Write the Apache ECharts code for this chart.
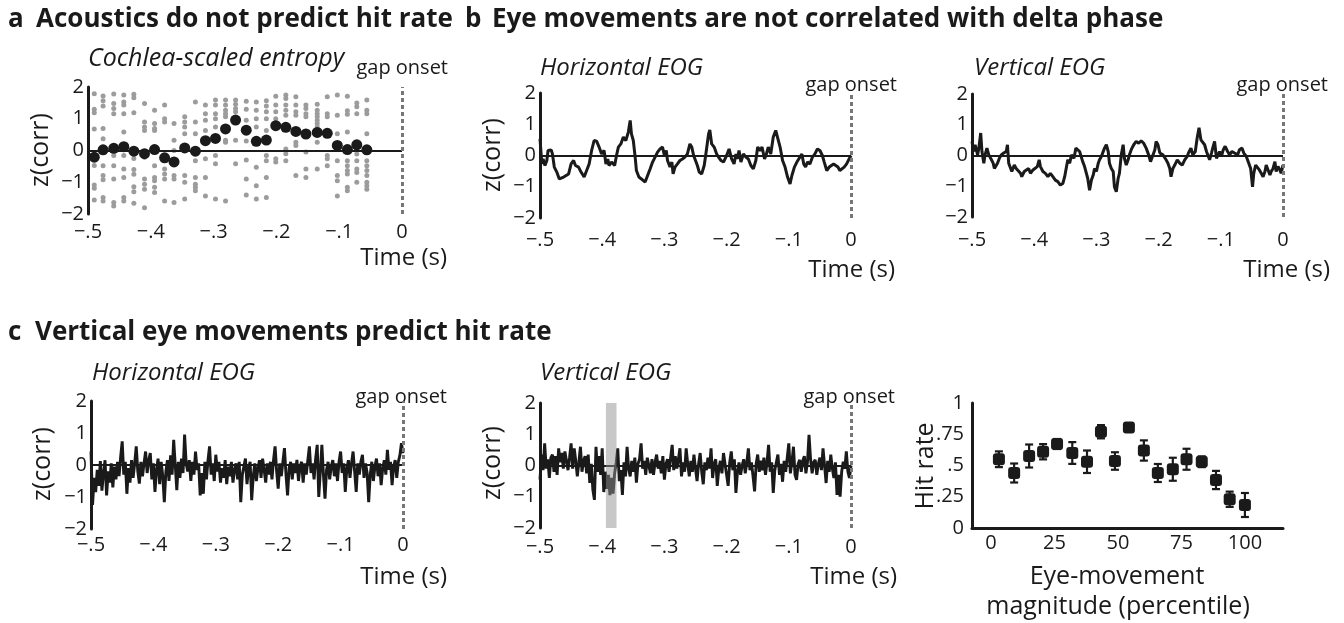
<!DOCTYPE html>
<html><head><meta charset="utf-8">
<script src="https://cdn.jsdelivr.net/npm/echarts@6/dist/echarts.min.js"></script>
<style>html,body{margin:0;padding:0;background:#fff}#c{width:1344px;height:623px}</style>
</head><body><div id="c"></div><script>
const FONT = '"Open Sans", "Noto Sans", sans-serif';
const INK = '#1a1a1a';

// ---------- Panel a: cochlea-scaled entropy ----------
const entropyTimes = [-0.490,-0.476,-0.459,-0.443,-0.427,-0.410,-0.394,-0.378,-0.363,-0.346,-0.329,-0.313,-0.297,-0.281,-0.265,-0.248,-0.232,-0.216,-0.201,-0.185,-0.169,-0.153,-0.135,-0.119,-0.103,-0.087,-0.072,-0.056];
const entropyMeans = [-0.21,0.02,0.07,0.12,-0.02,-0.10,0.03,-0.23,-0.36,0.08,-0.02,0.31,0.38,0.68,0.96,0.64,0.29,0.33,0.78,0.73,0.60,0.52,0.57,0.54,0.16,0.03,0.18,0.02];
const entropySubjects = [
  [1.79,1.30,1.19,0.68,-0.47,-1.09,-1.19,-1.56],
  [1.72,1.57,1.40,0.69,0.37,-0.48,-0.79,-0.92,-1.48,-1.59],
  [1.78,1.48,1.32,1.16,-0.16,-0.48,-0.90,-1.64,-1.75],
  [1.75,1.53,1.43,1.16,0.58,-0.16,-0.58,-0.85,-1.48,-1.59],
  [1.77,1.66,1.19,-0.25,-0.60,-0.75,-1.14,-1.30,-1.66],
  [1.48,0.90,0.74,0.63,-0.21,-0.90,-1.06,-1.22,-1.80],
  [1.27,0.85,0.69,0.63,-0.48,-0.85,-0.95,-1.16,-1.32],
  [1.43,1.00,0.90,-0.16,-0.58,-0.74,-0.90,-1.59],
  [0.85,0.32,0.00,-0.79,-0.90,-1.64],
  [1.06,0.90,0.74,0.53,-0.79,-1.00,-1.53],
  [1.53,0.90,0.53,-0.32,-0.85,-1.06,-1.16,-1.27],
  [1.43,1.16,0.95,0.63,-0.26,-0.85,-1.43],
  [1.59,1.43,1.16,1.00,0.74,0.32,-0.16,-0.42,-1.53],
  [1.59,1.43,1.27,1.16,1.06,0.32,0.26,-1.59],
  [1.59,1.46,1.32,1.22,0.32,-0.42],
  [1.55,1.30,0.95,0.30,-0.30,-0.90,-1.40],
  [1.53,1.27,1.00,0.74,-0.53,-1.11,-1.53],
  [1.57,1.40,1.22,1.00,0.63,-0.16,-0.32,-0.85,-1.48],
  [1.71,1.43,1.22,1.00,-0.26,-0.36],
  [1.75,1.64,1.43,1.27,1.11,0.05,-0.10,-0.32],
  [1.69,1.43,1.22,1.11,0.26,0.16,-0.79],
  [1.43,1.32,1.16,1.06,-0.05,-0.58,-0.85],
  [1.46,1.27,1.16,1.06,0.95,0.85,0.74,0.26,-0.58],
  [1.69,1.16,1.06,-0.16,-0.26,-0.48],
  [1.75,1.11,0.53,-0.32,-0.79,-0.95,-1.43],
  [1.71,1.25,1.14,0.58,-0.32,-0.48,-0.63,-0.74,-1.16,-1.27],
  [1.50,1.38,1.16,-0.11,-0.32,-0.58,-0.69,-1.00],
  [1.59,1.27,1.16,0.53,-0.32,-0.48,-0.63,-0.79,-1.00,-1.11,-1.22]
];

// ---------- Panel b: EOG vs delta phase, [time, z] ----------
const eogHorizB = [[-0.500,0.53],[-0.497,-0.27],[-0.495,-0.11],[-0.492,-0.32],[-0.489,-0.16],[-0.487,0.16],[-0.482,0.18],[-0.480,0.05],[-0.477,-0.37],[-0.473,-0.53],[-0.469,-0.75],[-0.466,-0.80],[-0.462,-0.69],[-0.459,-0.75],[-0.454,-0.59],[-0.450,-0.27],[-0.446,-0.16],[-0.443,-0.32],[-0.438,-0.37],[-0.434,-0.53],[-0.429,-0.69],[-0.425,-0.48],[-0.421,-0.27],[-0.417,0.16],[-0.413,0.48],[-0.409,0.46],[-0.405,0.27],[-0.401,0.05],[-0.397,0.16],[-0.394,-0.27],[-0.391,-0.11],[-0.389,-0.32],[-0.385,-0.21],[-0.380,-0.32],[-0.377,0.00],[-0.374,0.27],[-0.370,0.37],[-0.366,0.59],[-0.362,0.48],[-0.358,0.75],[-0.355,1.12],[-0.353,0.69],[-0.350,0.48],[-0.347,-0.05],[-0.345,-0.48],[-0.341,-0.69],[-0.337,-0.75],[-0.331,-0.85],[-0.327,-0.64],[-0.323,-0.43],[-0.319,-0.21],[-0.315,-0.05],[-0.311,0.11],[-0.307,0.21],[-0.303,0.27],[-0.300,0.00],[-0.297,0.16],[-0.295,-0.16],[-0.291,-0.37],[-0.288,-0.21],[-0.286,-0.59],[-0.283,-0.37],[-0.279,-0.27],[-0.275,-0.16],[-0.271,-0.11],[-0.267,-0.05],[-0.263,0.05],[-0.259,0.37],[-0.256,0.27],[-0.253,0.00],[-0.251,-0.05],[-0.247,-0.32],[-0.244,-0.53],[-0.240,-0.59],[-0.236,-0.32],[-0.234,-0.05],[-0.229,0.69],[-0.227,0.82],[-0.224,0.37],[-0.220,0.27],[-0.216,0.05],[-0.213,-0.05],[-0.209,-0.16],[-0.205,-0.21],[-0.200,0.00],[-0.196,0.21],[-0.192,-0.11],[-0.188,-0.27],[-0.185,0.05],[-0.183,-0.11],[-0.180,0.16],[-0.177,-0.21],[-0.173,0.05],[-0.169,-0.05],[-0.165,-0.11],[-0.161,-0.32],[-0.157,-0.43],[-0.153,-0.16],[-0.150,0.27],[-0.146,0.16],[-0.143,0.27],[-0.139,-0.11],[-0.136,0.05],[-0.133,0.27],[-0.129,0.05],[-0.125,0.59],[-0.121,0.80],[-0.118,0.85],[-0.114,0.27],[-0.110,-0.16],[-0.106,-0.37],[-0.102,-0.69],[-0.098,-0.91],[-0.095,-0.64],[-0.091,-0.37],[-0.087,-0.21],[-0.084,-0.27],[-0.079,0.05],[-0.076,-0.27],[-0.073,-0.37],[-0.070,-0.21],[-0.066,-0.27],[-0.062,-0.05],[-0.058,0.05],[-0.054,0.21],[-0.050,0.16],[-0.046,0.00],[-0.043,-0.21],[-0.039,-0.48],[-0.035,-0.37],[-0.032,-0.43],[-0.028,-0.27],[-0.025,-0.21],[-0.021,-0.37],[-0.018,-0.48],[-0.015,-0.53],[-0.011,-0.37],[-0.007,-0.27],[-0.003,-0.11],[0.000,0.00]];
const eogVertB = [[-0.500,0.46],[-0.497,0.13],[-0.495,0.35],[-0.491,0.02],[-0.489,0.24],[-0.486,0.73],[-0.484,0.13],[-0.481,-0.25],[-0.479,0.02],[-0.476,0.24],[-0.473,0.02],[-0.470,-0.09],[-0.466,-0.25],[-0.464,-0.42],[-0.459,-0.25],[-0.456,-0.09],[-0.453,0.02],[-0.449,0.08],[-0.445,0.13],[-0.443,0.35],[-0.441,-0.25],[-0.438,-0.20],[-0.436,-0.52],[-0.432,-0.31],[-0.429,-0.42],[-0.426,-0.36],[-0.422,-0.58],[-0.420,-0.69],[-0.416,-0.52],[-0.413,-0.58],[-0.409,-0.42],[-0.406,-0.58],[-0.402,-0.47],[-0.399,-0.52],[-0.395,-0.36],[-0.392,-0.14],[-0.390,-0.36],[-0.386,-0.52],[-0.382,-0.58],[-0.378,-0.69],[-0.374,-0.58],[-0.370,-0.69],[-0.366,-0.80],[-0.362,-0.85],[-0.358,-0.96],[-0.354,-0.91],[-0.351,-0.69],[-0.348,-0.36],[-0.346,-0.14],[-0.343,-0.25],[-0.340,0.02],[-0.336,-0.09],[-0.333,0.24],[-0.331,0.30],[-0.327,0.13],[-0.324,0.19],[-0.322,-0.20],[-0.319,-0.36],[-0.316,-0.42],[-0.314,-0.74],[-0.311,-1.13],[-0.308,-0.80],[-0.305,-0.63],[-0.303,-0.42],[-0.300,-0.52],[-0.297,-0.25],[-0.295,-0.14],[-0.292,-0.03],[-0.289,0.02],[-0.287,0.24],[-0.284,0.35],[-0.281,0.13],[-0.279,-0.25],[-0.276,-0.42],[-0.273,-0.52],[-0.271,-1.02],[-0.268,-1.18],[-0.265,-0.74],[-0.263,-0.58],[-0.260,0.02],[-0.257,0.35],[-0.255,-0.09],[-0.252,-0.31],[-0.249,-0.14],[-0.247,0.02],[-0.244,0.19],[-0.240,0.35],[-0.236,0.46],[-0.232,0.40],[-0.228,0.48],[-0.224,0.40],[-0.220,0.24],[-0.216,0.02],[-0.213,-0.20],[-0.209,0.02],[-0.206,0.19],[-0.204,0.46],[-0.201,0.35],[-0.198,0.08],[-0.196,0.13],[-0.193,0.02],[-0.190,0.08],[-0.188,-0.14],[-0.185,-0.25],[-0.182,-0.42],[-0.180,-0.69],[-0.177,-0.42],[-0.174,-0.31],[-0.170,-0.14],[-0.166,-0.25],[-0.162,-0.31],[-0.158,-0.14],[-0.154,-0.03],[-0.152,0.08],[-0.148,0.24],[-0.145,0.02],[-0.141,0.13],[-0.138,0.57],[-0.135,0.90],[-0.132,0.51],[-0.130,0.46],[-0.126,0.35],[-0.123,0.13],[-0.121,0.19],[-0.118,-0.14],[-0.115,0.08],[-0.113,0.24],[-0.110,0.46],[-0.107,-0.09],[-0.104,-0.14],[-0.102,0.13],[-0.099,-0.03],[-0.096,0.19],[-0.093,0.30],[-0.089,0.13],[-0.086,0.02],[-0.082,0.13],[-0.078,0.08],[-0.073,0.02],[-0.070,0.19],[-0.066,0.24],[-0.063,0.08],[-0.059,-0.03],[-0.055,-0.25],[-0.052,-0.42],[-0.049,-1.02],[-0.047,-0.58],[-0.044,-0.31],[-0.041,-0.36],[-0.038,-0.47],[-0.035,-0.58],[-0.032,-0.69],[-0.029,-0.52],[-0.027,-0.31],[-0.024,-0.47],[-0.021,-0.63],[-0.019,-0.52],[-0.016,-0.42],[-0.013,-0.20],[-0.011,-0.52],[-0.008,-0.36],[-0.005,-0.47],[-0.003,-0.58],[0.000,-0.31]];

// ---------- Panel c: EOG vs hit rate (sampled every 2.5 ms from -0.5 s) ----------
const cStartTime = -0.5;
const cSampleStep = 0.0025;
const eogHorizC = [0.42,-1.25,-0.40,-0.85,-0.15,-0.65,0.12,-0.80,-0.25,0.15,
-0.95,-0.20,-0.55,0.05,-0.70,-0.05,-0.45,0.10,-0.35,0.25,
0.74,-0.30,0.10,-0.90,-0.10,-0.55,0.15,-0.40,0.05,0.58,
-0.20,-0.58,0.10,-0.35,0.05,0.42,-0.25,0.15,0.37,-0.45,
0.05,-0.84,-0.15,0.20,-0.60,0.10,-0.35,-1.16,-0.20,0.15,
-0.50,0.30,-0.30,0.79,0.00,-0.79,0.10,-0.40,0.20,-0.25,
0.95,0.05,-0.20,0.15,-0.50,0.10,-0.30,0.42,-0.15,0.05,
-0.95,-0.25,-0.90,0.10,-0.45,0.15,0.58,-0.30,0.05,-0.50,
0.32,-0.20,0.10,-0.55,-0.10,-0.40,0.15,-0.60,-0.05,-0.35,
0.10,-0.55,-0.15,0.05,-0.45,0.10,-1.16,-0.30,-0.05,0.20,
-0.60,-0.10,0.10,-1.10,-0.35,0.05,-0.50,-0.10,0.15,-0.40,
0.20,-0.15,-0.55,0.05,-0.30,0.10,-0.45,0.15,0.58,-0.20,
-0.74,0.05,-0.35,0.10,0.53,-0.30,-0.95,-0.10,0.10,-0.45,
0.05,-0.25,0.16,-0.50,-0.05,0.10,-0.55,0.05,-0.30,0.15,
0.58,-0.25,0.05,-0.45,0.20,0.63,-1.00,-0.20,0.63,-0.30,
-1.05,-0.15,0.10,-0.45,-0.05,0.15,-0.35,0.05,-0.50,0.10,
0.42,-0.25,0.05,-0.84,-0.10,0.15,-0.40,0.05,0.42,-0.20,
-0.84,0.05,-0.30,0.10,0.32,-0.40,0.05,-0.25,-1.16,-0.30,
0.10,-0.50,-0.05,0.20,-0.35,0.05,-0.63,-0.10,0.15,-0.30,
0.47,-0.15,0.10,-0.63,-0.05,0.15,-0.40,0.10,0.30,0.68,0.37];
const eogVertC = [-0.45,0.35,-0.15,0.71,-0.10,0.20,-0.40,0.25,0.35,-0.20,
0.30,-0.30,0.55,0.10,0.40,-0.10,0.45,0.15,-0.15,0.25,
0.71,-0.10,0.55,0.15,-0.35,0.10,0.60,-0.20,0.15,0.30,
-0.25,0.35,-0.56,0.05,-0.78,-1.10,0.60,-0.20,0.30,-0.30,
0.55,-0.85,-0.20,-0.75,-0.30,-0.95,-0.40,-0.90,-0.25,0.10,
0.55,-0.50,-0.15,-0.94,0.10,-0.35,0.60,-0.10,-0.35,0.15,
-0.20,0.25,-0.55,0.05,0.20,0.71,-0.10,0.15,-0.30,0.25,
0.00,-0.25,0.20,-0.30,0.10,0.35,-0.10,0.15,-0.25,0.30,
-0.45,0.05,0.20,-0.20,0.25,0.66,-0.15,0.30,-0.10,0.20,
0.55,-0.35,0.10,-0.20,0.55,0.05,-0.35,0.15,-0.20,0.35,
-0.10,-0.50,0.05,0.40,-0.20,-0.60,0.10,-0.15,0.25,-0.10,
0.55,-0.40,0.05,0.20,-0.65,-0.10,0.15,-0.25,0.40,0.05,
-0.30,-0.65,0.10,0.45,-0.15,0.20,-0.88,-0.20,0.10,-0.30,
0.00,0.20,-0.25,0.10,0.55,-0.15,0.10,-0.35,-0.83,0.05,
0.35,-0.20,0.15,-0.15,0.25,-0.30,0.10,0.66,-0.20,0.10,
-0.88,-0.15,0.10,0.35,-0.30,0.05,-0.52,0.15,-0.20,0.25,
0.71,-0.25,0.10,0.60,-0.30,-0.46,0.05,0.18,-0.20,0.15,
0.30,-0.25,0.10,0.98,0.20,-0.25,0.10,0.18,-0.30,0.05,
0.25,-0.15,0.55,0.00,-0.56,0.15,-0.20,0.35,-0.10,-0.40,
0.10,-0.94,-0.30,-1.00,-0.20,0.12,-0.10,0.45,-0.20,-0.40,0.00];
const sigWindow = [-0.394, -0.377];

const hitPercentile = [3.1,9.1,15.0,20.5,26.0,32.0,37.8,43.3,48.8,54.3,60.2,65.7,71.6,77.0,83.0,88.6,94.0,100.0];
const hitRate = [0.55,0.44,0.576,0.61,0.672,0.60,0.53,0.77,0.536,0.805,0.62,0.44,0.47,0.55,0.53,0.384,0.23,0.184];
const hitErr = [0.063,0.076,0.092,0.061,0.04,0.087,0.09,0.053,0.07,0.03,0.081,0.072,0.092,0.084,0.043,0.073,0.061,0.096];
const percentileTicks = [0,25,50,75,100];

// ---------- helpers ----------
const fmtTime = v => { const r = Math.round(v*10)/10; if (r === 0) return '0'; return (r < 0 ? '\u2212' : '') + Math.abs(r).toFixed(1).replace(/^0/, ''); };
const fmtZ = v => v < 0 ? '\u2212' + Math.abs(v) : String(v);
const fmtHit = v => v === 0 ? '0' : v === 1 ? '1' : String(v).replace(/^0/, '');
const labelStyle = {fontSize:20, fontFamily:FONT, color:INK};

const grids = [
  {left:88, top:87, width:314, height:127},
  {left:540, top:93, width:311, height:125},
  {left:972, top:94, width:311, height:123},
  {left:91, top:401, width:312, height:128},
  {left:540, top:403, width:311, height:125},
  {left:972, top:403, width:311, height:125}
];
const xMargins = [8, 12, 13, 6, 9];
const xAxes = [], yAxes = [];
for (let g = 0; g < 5; g++) {
  xAxes.push({type:'value', gridIndex:g, min:-0.5, max:0, interval:0.1,
    axisLine:{show:false}, axisTick:{show:false}, splitLine:{show:false},
    axisLabel:Object.assign({margin:xMargins[g], formatter:fmtTime}, labelStyle)});
  yAxes.push({type:'value', gridIndex:g, min:-2, max:2, interval:1,
    axisLine:{show:true, onZero:false, lineStyle:{color:INK, width:3}}, axisTick:{show:false}, splitLine:{show:false},
    axisLabel:Object.assign({margin:4, formatter:fmtZ}, labelStyle)});
}
xAxes.push({type:'value', gridIndex:5, min:-7.5, max:115,
  axisLine:{show:true, onZero:false, lineStyle:{color:INK, width:3}}, axisTick:{show:false}, splitLine:{show:false},
  axisLabel:Object.assign({margin:5, customValues:percentileTicks}, labelStyle)});
yAxes.push({type:'value', gridIndex:5, min:0, max:1, interval:0.25,
  axisLine:{show:true, onZero:false, lineStyle:{color:INK, width:3}}, axisTick:{show:false}, splitLine:{show:false},
  axisLabel:Object.assign({margin:8, formatter:fmtHit}, labelStyle)});

const refLines = {silent:true, symbol:'none', label:{show:false}, animation:false, data:[
  {yAxis:0, lineStyle:{color:INK, width:2.2, type:'solid'}},
  {xAxis:0, lineStyle:{color:'#777', width:3, type:[4,3]}}
]};

const graySubjects = [];
entropySubjects.forEach((col, i) => col.forEach(v => graySubjects.push([entropyTimes[i], v])));

const series = [
  {type:'scatter', xAxisIndex:0, yAxisIndex:0, z:2, symbolSize:5, itemStyle:{color:'#9c9c9c', opacity:1}, data:graySubjects, markLine:refLines, silent:true},
  {type:'scatter', xAxisIndex:0, yAxisIndex:0, z:4, symbolSize:11, itemStyle:{color:INK, opacity:1}, data:entropyTimes.map((t,i)=>[t, entropyMeans[i]]), silent:true},
  {type:'line', xAxisIndex:1, yAxisIndex:1, showSymbol:false, lineStyle:{color:INK, width:3}, data:eogHorizB, markLine:refLines, silent:true},
  {type:'line', xAxisIndex:2, yAxisIndex:2, showSymbol:false, lineStyle:{color:INK, width:3}, data:eogVertB, markLine:refLines, silent:true},
  {type:'line', xAxisIndex:3, yAxisIndex:3, showSymbol:false, lineStyle:{color:INK, width:2.9}, data:eogHorizC.map((v,i)=>[cStartTime + i*cSampleStep, v]), markLine:refLines, silent:true},
  {type:'line', xAxisIndex:4, yAxisIndex:4, showSymbol:false, lineStyle:{color:INK, width:2.9}, data:eogVertC.map((v,i)=>[cStartTime + i*cSampleStep, v]), markLine:refLines, silent:true},
  {type:'custom', xAxisIndex:4, yAxisIndex:4, z:10, silent:true, data:[sigWindow],
    renderItem:(p, api) => { const a = api.coord([api.value(0), 2]); const b = api.coord([api.value(1), -2]);
      return {type:'rect', shape:{x:a[0], y:a[1], width:b[0]-a[0], height:b[1]-a[1]}, style:{fill:'rgba(145,145,145,0.5)'}}; }},
  {type:'custom', xAxisIndex:5, yAxisIndex:5, z:2, silent:true, data:hitPercentile.map((x,i)=>[x, hitRate[i], hitErr[i]]),
    renderItem:(p, api) => { const x = api.value(0), y = api.value(1), e = api.value(2);
      const t = api.coord([x, y+e]), b = api.coord([x, y-e]); const hw = 4; const st = {stroke:INK, lineWidth:2.2};
      return {type:'group', children:[
        {type:'line', shape:{x1:t[0], y1:t[1], x2:b[0], y2:b[1]}, style:st},
        {type:'line', shape:{x1:t[0]-hw, y1:t[1], x2:t[0]+hw, y2:t[1]}, style:st},
        {type:'line', shape:{x1:b[0]-hw, y1:b[1], x2:b[0]+hw, y2:b[1]}, style:st}]}; }},
  {type:'scatter', xAxisIndex:5, yAxisIndex:5, z:4, symbol:'roundRect', symbolSize:12, itemStyle:{color:INK, opacity:1}, data:hitPercentile.map((x,i)=>[x, hitRate[i]]), silent:true}
];

function txt(text, x, y, opt) {
  opt = opt || {};
  return {type:'text', x:x, y:y, rotation:opt.rot || 0, silent:true, style:{text:text, fill:INK,
    fontSize:opt.size || 24, fontFamily:FONT, fontWeight:opt.bold ? 'bold' : 'normal', fontStyle:opt.italic ? 'italic' : 'normal',
    align:opt.align || 'left', verticalAlign:'middle'}};
}
const H = {bold:true, size:26};
const graphics = [
  txt('a', 8, 20, H), txt('Acoustics do not predict hit rate', 36, 20, H),
  txt('b', 465, 20, H), txt('Eye movements are not correlated with delta phase', 492, 20, H),
  txt('c', 8, 333, H), txt('Vertical eye movements predict hit rate', 35, 333, H),
  txt('Cochlea-scaled entropy', 88, 59, {italic:true, size:25}),
  txt('Horizontal EOG', 540, 68, {italic:true, size:24}),
  txt('Vertical EOG', 974, 68, {italic:true, size:24}),
  txt('Horizontal EOG', 92, 373, {italic:true, size:24}),
  txt('Vertical EOG', 540, 373, {italic:true, size:24}),
  txt('gap onset', 448, 68, {align:'right', size:20}),
  txt('gap onset', 897, 85, {align:'right', size:20}),
  txt('gap onset', 1328, 85, {align:'right', size:20}),
  txt('gap onset', 447, 397, {align:'right', size:20}),
  txt('gap onset', 895, 397, {align:'right', size:20}),
  txt('Time (s)', 447, 258, {align:'right'}),
  txt('Time (s)', 895, 270, {align:'right'}),
  txt('Time (s)', 1330, 270, {align:'right'}),
  txt('Time (s)', 447, 577, {align:'right'}),
  txt('Time (s)', 897, 577, {align:'right'}),
  txt('z(corr)', 41, 150, {align:'center', rot:Math.PI/2, size:25}),
  txt('z(corr)', 493, 155, {align:'center', rot:Math.PI/2, size:25}),
  txt('z(corr)', 43, 464, {align:'center', rot:Math.PI/2, size:25}),
  txt('z(corr)', 493, 463, {align:'center', rot:Math.PI/2, size:25}),
  txt('Hit rate', 926, 466, {align:'center', rot:Math.PI/2, size:25}),
  txt('Eye-movement', 1117, 577, {align:'center', size:25}),
  txt('magnitude (percentile)', 1118, 607, {align:'center', size:25})
];

const chart = echarts.init(document.getElementById('c'), null, {renderer:'canvas'});
chart.setOption({animation:false, backgroundColor:'#fff', grid:grids, xAxis:xAxes, yAxis:yAxes, series:series, graphic:graphics});
</script></body></html>
